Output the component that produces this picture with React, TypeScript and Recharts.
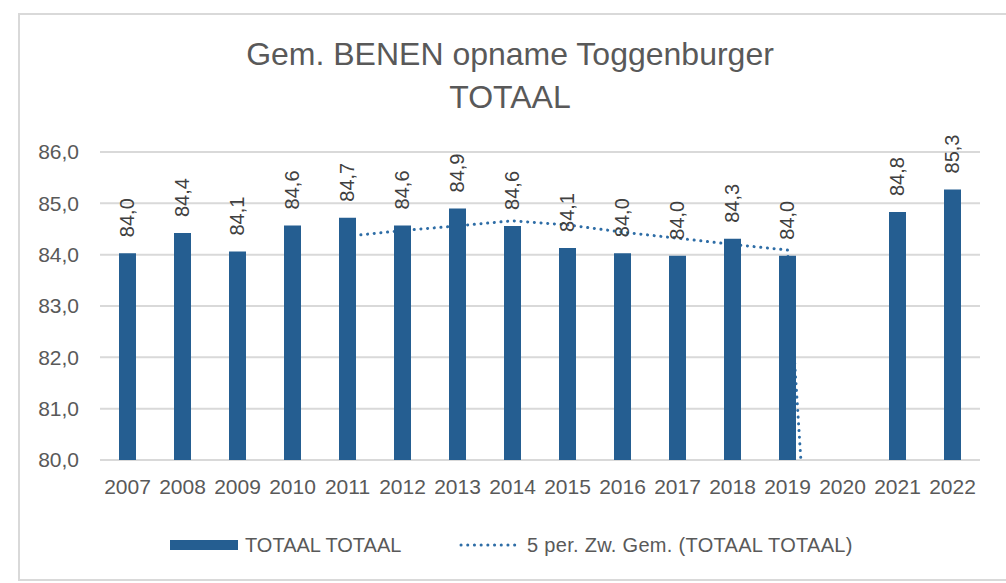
import React from 'react';
import {
  ComposedChart,
  Bar,
  Line,
  XAxis,
  YAxis,
  CartesianGrid,
  Legend,
  LabelList
} from 'recharts';

const years = ['2007', '2008', '2009', '2010', '2011', '2012', '2013', '2014', '2015', '2016', '2017', '2018', '2019', '2020', '2021', '2022'];
const totaal = [84.03, 84.42, 84.06, 84.57, 84.72, 84.57, 84.9, 84.56, 84.13, 84.03, 83.98, 84.31, 83.98, null, 84.83, 85.27];
// 5 per. zwevend gemiddelde (Excel trendline, empty 2020 counted as 0)
const movingAvg = [null, null, null, null, 84.36, 84.47, 84.56, 84.66, 84.58, 84.44, 84.32, 84.2, 84.09, 67.26, null, null];
const yTicks = [80, 81, 82, 83, 84, 85, 86];

const data = years.map((year, i) => ({ year, totaal: totaal[i], avg: movingAvg[i] }));

const BAR_COLOR = '#255E91';
const LINE_COLOR = '#2E6DA6';
const TEXT_GRAY = '#595959';
const FONT = '"Liberation Sans", Arial, sans-serif';

const fmt = (v: number) => v.toFixed(1).replace('.', ',');

const BarLabel = (props: any) => {
  const { x, y, width, value } = props;
  if (value == null) return null;
  const cx = Number(x) + Number(width) / 2;
  const cy = Number(y) - 16;
  return (
    <text
      x={cx}
      y={cy}
      transform={`rotate(-90 ${cx} ${cy})`}
      textAnchor="start"
      dominantBaseline="central"
      fill="#404040"
      fontSize={20}
      fontFamily={FONT}
    >
      {fmt(Number(value))}
    </text>
  );
};

const CustomLegend = () => (
  <div style={{ position: 'relative', width: 1006, height: 34, fontFamily: FONT, fontSize: 20, color: TEXT_GRAY }}>
    <div style={{ position: 'absolute', left: 170, top: 12, width: 68, height: 10, background: BAR_COLOR }} />
    <div style={{ position: 'absolute', left: 245, top: 5, lineHeight: '24px' }}>TOTAAL TOTAAL</div>
    <svg style={{ position: 'absolute', left: 458, top: 10 }} width={66} height={14}>
      <line x1={3} y1={7} x2={63} y2={7} stroke={LINE_COLOR} strokeWidth={3} strokeDasharray="0.1 6.6" strokeLinecap="round" />
    </svg>
    <div style={{ position: 'absolute', left: 527, top: 5, lineHeight: '24px', letterSpacing: '0.3px' }}>
      5 per. Zw. Gem. (TOTAAL TOTAAL)
    </div>
  </div>
);

export default function App() {
  return (
    <div style={{ position: 'absolute', left: 0, top: 0, width: 1006, height: 583, overflow: 'hidden', background: '#fff' }}>
      <div
        style={{
          position: 'absolute',
          left: 18,
          top: 13,
          width: 1000,
          height: 568,
          border: '2px solid #d9d9d9',
          boxSizing: 'border-box'
        }}
      />
      <div
        style={{
          position: 'absolute',
          left: 0,
          width: 1020,
          top: 33,
          textAlign: 'center',
          fontFamily: FONT,
          fontSize: 32,
          lineHeight: '43px',
          color: TEXT_GRAY
        }}
      >
        <div>Gem. BENEN opname Toggenburger</div>
        <div>TOTAAL</div>
      </div>
      <div style={{ position: 'absolute', left: 0, top: 0 }}>
        <ComposedChart
          width={1006}
          height={583}
          data={data}
          margin={{ top: 152, right: 26, left: 0, bottom: 49 }}
          style={{ fontFamily: FONT }}
        >
          <CartesianGrid horizontal vertical={false} stroke="#d9d9d9" strokeWidth={2} />
          <XAxis
            dataKey="year"
            axisLine={false}
            tickLine={false}
            height={40}
            tickMargin={13}
            interval={0}
            tick={{ fill: TEXT_GRAY, fontSize: 21 }}
          />
          <YAxis
            width={100}
            domain={[80, 86]}
            ticks={yTicks}
            allowDataOverflow
            axisLine={false}
            tickLine={false}
            tickMargin={15}
            tickFormatter={fmt}
            tick={{ fill: TEXT_GRAY, fontSize: 21 }}
          />
          <Line
            dataKey="avg"
            type="linear"
            stroke={LINE_COLOR}
            strokeWidth={3}
            strokeDasharray="0.1 6.6"
            strokeLinecap="round"
            dot={false}
            activeDot={false}
            legendType="none"
            isAnimationActive={false}
            zIndex={250}
          />
          <Bar dataKey="totaal" fill={BAR_COLOR} barSize={17} isAnimationActive={false}>
            <LabelList dataKey="totaal" content={<BarLabel />} />
          </Bar>
          <Legend
            verticalAlign="bottom"
            height={34}
            content={() => <CustomLegend />}
            wrapperStyle={{ position: 'absolute', left: 0, top: 528, width: 1006, height: 34 }}
          />
        </ComposedChart>
      </div>
    </div>
  );
}
